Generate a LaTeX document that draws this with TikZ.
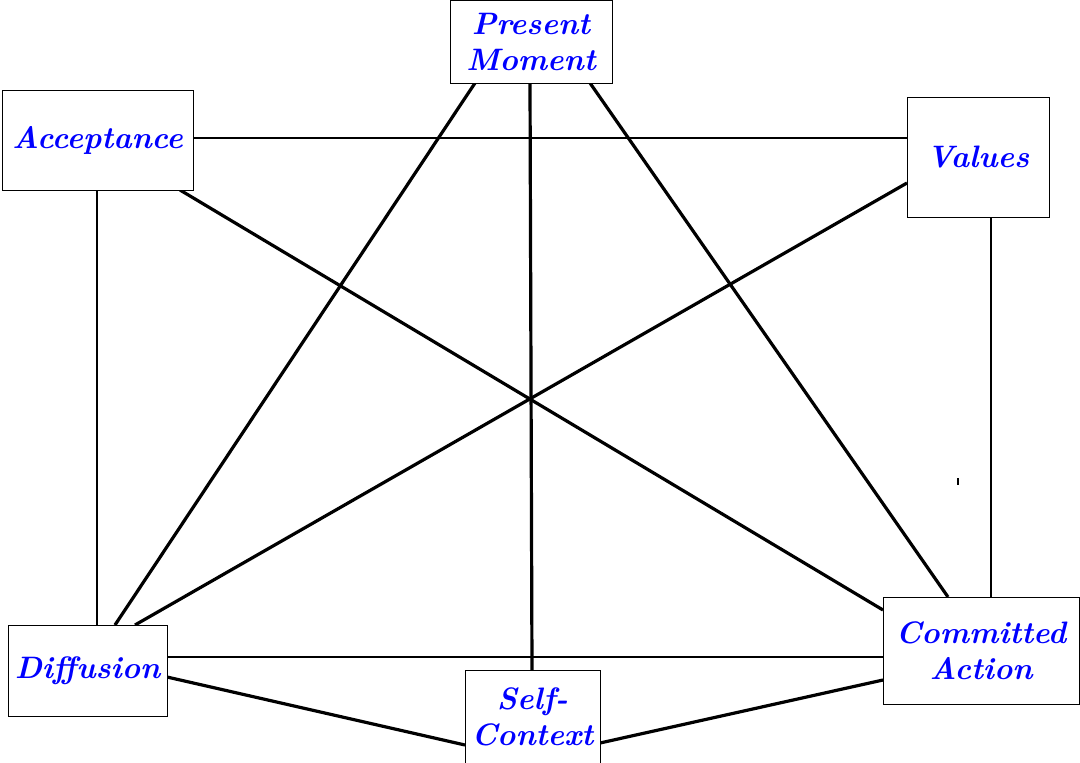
\documentclass[tikz,border=0pt]{standalone}
\usetikzlibrary{calc}
\begin{document}
\begin{tikzpicture}[x=1pt,y=-1pt,
  box/.style={draw,thin,fill=white,inner sep=0pt,align=center,text=blue,
    font=\fontsize{31}{36}\selectfont\itshape\bfseries},
  thinl/.style={line width=1.8pt},
  thickl/.style={line width=3.2pt}]
\useasboundingbox (0,0) rectangle (1080,763);
\coordinate (pm1) at (475,83); \coordinate (pm2) at (530,83); \coordinate (pm3) at (590,83);
\coordinate (ac1) at (193,138); \coordinate (ac2) at (97,190); \coordinate (ac3) at (180,190);
\coordinate (va1) at (907,138); \coordinate (va2) at (991,217); \coordinate (va3) at (907,183);
\coordinate (di1) at (97,625); \coordinate (di2) at (115,625); \coordinate (di3) at (135,625);
\coordinate (di4) at (167,657); \coordinate (di5) at (167,677);
\coordinate (sc1) at (532,670); \coordinate (sc2) at (465,745); \coordinate (sc3) at (600,743);
\coordinate (ca1) at (991,597); \coordinate (ca2) at (948,597); \coordinate (ca3) at (883,610);
\coordinate (ca4) at (883,657); \coordinate (ca5) at (883,680);
\draw[thinl] (ac1) -- (va1);
\draw[thinl] (ac2) -- (di1);
\draw[thinl] (va2) -- (ca1);
\draw[thinl] (di4) -- (ca4);
\draw[thickl] (pm1) -- (di2);
\draw[thickl] (pm2) -- (sc1);
\draw[thickl] (pm3) -- (ca2);
\draw[thickl] (ac3) -- (ca3);
\draw[thickl] (va3) -- (di3);
\draw[thickl] (di5) -- (sc2);
\draw[thickl] (sc3) -- (ca5);
\coordinate (m1) at (958,478); \coordinate (m2) at (958,485);
\draw[line width=1.2pt] (m1) -- (m2);
\node[box,minimum width=162,minimum height=83] (pm) at (531,41.5) {Present\\Moment};
\node[box,minimum width=191,minimum height=100] (ac) at (97.5,140) {Acceptance};
\node[box,minimum width=142,minimum height=120] (va) at (978,157) {Values};
\node[box,minimum width=159,minimum height=91] (di) at (87.5,670.5) {Diffusion};
\node[box,minimum width=135,minimum height=93] (sc) at (532.5,716.5) {Self-\\Context};
\node[box,minimum width=196,minimum height=107] (ca) at (981,650.5) {Committed\\Action};
\end{tikzpicture}
\end{document}
